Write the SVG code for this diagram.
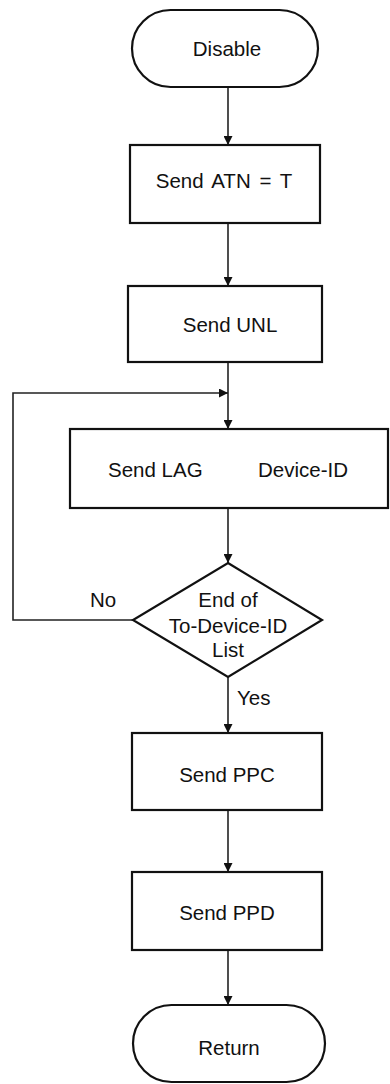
<svg xmlns="http://www.w3.org/2000/svg" width="390" height="1084" viewBox="0 0 390 1084">
<style>
.shape{fill:#fff;stroke:#111;stroke-width:2.2}
.line{fill:none;stroke:#222;stroke-width:1.6}
text{font-family:"Liberation Sans",Arial,sans-serif;font-size:20.5px;fill:#111}
.c{text-anchor:middle}
</style>
<defs>
<marker id="arr" viewBox="0 0 10 10" refX="10" refY="5" markerWidth="9" markerHeight="9" markerUnits="userSpaceOnUse" orient="auto">
<path d="M0,0 L10,5 L0,10 Z" fill="#111"/>
</marker>
</defs>
<rect width="390" height="1084" fill="#fff"/>
<g id="connectors">
<line class="line" x1="228" y1="87" x2="228" y2="145" marker-end="url(#arr)"/>
<line class="line" x1="228" y1="223" x2="228" y2="286" marker-end="url(#arr)"/>
<line class="line" x1="228" y1="362" x2="228" y2="429" marker-end="url(#arr)"/>
<polyline class="line" points="133,620 13,620 13,393 228,393" marker-end="url(#arr)"/>
<line class="line" x1="228" y1="508" x2="228" y2="563" marker-end="url(#arr)"/>
<line class="line" x1="228" y1="677" x2="228" y2="733" marker-end="url(#arr)"/>
<line class="line" x1="228" y1="810" x2="228" y2="872" marker-end="url(#arr)"/>
<line class="line" x1="228" y1="950" x2="228" y2="1005" marker-end="url(#arr)"/>
<text x="90" y="607">No</text>
<text x="237" y="705">Yes</text>
</g>
<g id="disable">
<rect class="shape" x="132" y="10" width="186" height="77" rx="38.5" ry="38.5"/>
<text class="c" x="227" y="56">Disable</text>
</g>
<g id="send-atn">
<rect class="shape" x="130" y="145" width="190" height="78"/>
<text class="c" x="224" y="188" word-spacing="3">Send ATN = T</text>
</g>
<g id="send-unl">
<rect class="shape" x="128" y="286" width="194" height="76"/>
<text class="c" x="230" y="332">Send UNL</text>
</g>
<g id="send-lag">
<rect class="shape" x="70" y="429" width="318" height="79"/>
<text x="108" y="477">Send LAG</text>
<text x="258" y="477">Device-ID</text>
</g>
<g id="end-of-list">
<polygon class="shape" points="228,563 322,620 228,677 133,620"/>
<text class="c" x="228" y="607">End of</text>
<text class="c" x="228" y="633">To-Device-ID</text>
<text class="c" x="228" y="657">List</text>
</g>
<g id="send-ppc">
<rect class="shape" x="132" y="733" width="190" height="77"/>
<text class="c" x="227" y="782">Send PPC</text>
</g>
<g id="send-ppd">
<rect class="shape" x="132" y="872" width="190" height="78"/>
<text class="c" x="227" y="920">Send PPD</text>
</g>
<g id="return">
<rect class="shape" x="133" y="1005" width="192" height="77" rx="38.5" ry="38.5"/>
<text class="c" x="229" y="1055">Return</text>
</g>
</svg>
